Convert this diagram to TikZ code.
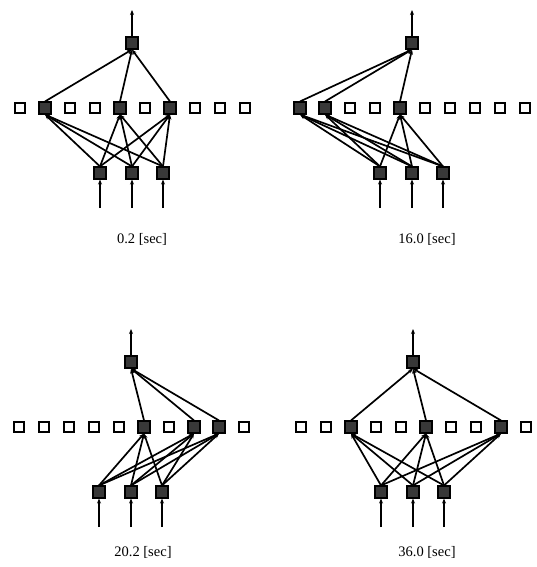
\documentclass[tikz,border=0pt]{standalone}
\usepackage{fontspec}
\setmainfont{Liberation Serif}
\usetikzlibrary{arrows.meta}
\begin{document}
\begin{tikzpicture}[x=1pt,y=-1pt,
  cell/.style={draw=black,line width=1.9pt,fill=white,minimum size=10.5pt,inner sep=0pt},
  active/.style={draw=black,line width=1.6pt,fill=black!78,minimum size=11.5pt,inner sep=0pt},
  link/.style={line width=1.7pt,-{Stealth[length=5pt,width=4pt]}},
  caption/.style={font=\fontsize{14.5}{16}\selectfont}]
\useasboundingbox (0,0) rectangle (536,567);
% one snapshot of the network per quadrant: name / x of first hidden cell / y of hidden row /
% active hidden cells / time / caption position
\foreach \p/\x/\y/\acts/\lab/\lx/\ly in {
    a/20/108/{1,4,6}/0.2/142/239,
    b/300/108/{0,1,4}/16.0/427/239,
    c/19/427/{5,7,8}/20.2/143/552,
    d/301/427/{2,5,8}/36.0/427/552} {
  % hidden row of ten cells, active ones shaded
  \foreach \i in {0,...,9}
    \node[cell] (\p-h\i) at (\x+25*\i,\y) {};
  \foreach \i in \acts
    \node[active] (\p-h\i) at (\x+25*\i,\y) {};
  % output unit and its outgoing arrow
  \node[active] (\p-o) at (\x+112,\y-65) {};
  \coordinate (\p-top) at (\x+112,\y-98);
  \draw[link] (\p-o.north) -- (\p-top);
  % three input units with incoming arrows
  \foreach \k/\dx in {1/80,2/112,3/143} {
    \node[active] (\p-i\k) at (\x+\dx,\y+65) {};
    \coordinate (\p-s\k) at (\x+\dx,\y+100);
    \draw[link] (\p-s\k) -- (\p-i\k.south);
  }
  % connections through the active hidden cells
  \foreach \i in \acts {
    \draw[link] (\p-h\i.north) -- (\p-o.south);
    \foreach \k in {1,2,3}
      \draw[link] (\p-i\k.north) -- (\p-h\i.south);
  }
  \node[caption] (\p-cap) at (\lx,\ly) {\lab{} [sec]};
}
\end{tikzpicture}
\end{document}
